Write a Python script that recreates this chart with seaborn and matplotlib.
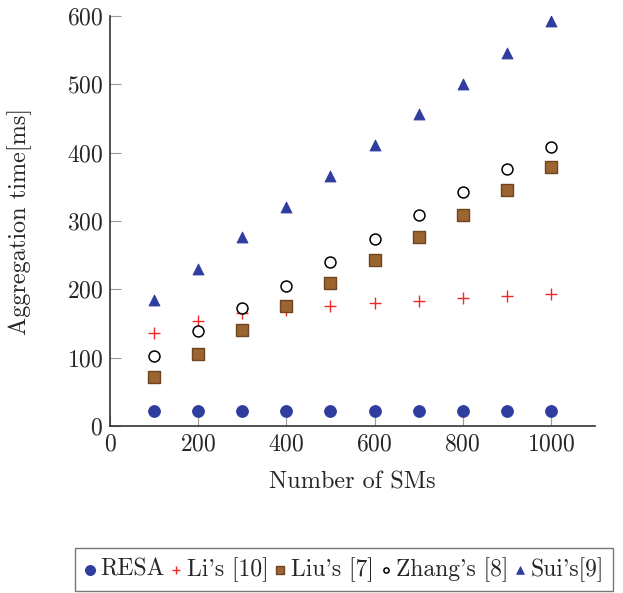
import matplotlib
matplotlib.use('Agg')
import matplotlib.pyplot as plt
import seaborn as sns
import pandas as pd

sms = [100, 200, 300, 400, 500, 600, 700, 800, 900, 1000]
resa = [22, 22, 22, 22, 22, 22, 22, 22, 22, 22]
li = [136, 153, 165, 170, 176, 180, 183, 187, 190, 193]
liu = [71, 105, 140, 175, 209, 243, 277, 309, 346, 379]
zhang = [102, 139, 172, 205, 240, 274, 309, 343, 376, 409]
sui = [185, 230, 276, 321, 366, 411, 456, 501, 546, 592]

series = [
    ('RESA', resa, dict(marker='o', color='#2f3d9e', edgecolor='#2f3d9e', s=72)),
    ("Li's [10]", li, dict(marker='+', color='#f02828', s=70, linewidth=1.0)),
    ("Liu's [7]", liu, dict(marker='s', color='#9b6431', edgecolor='#6e4520', s=66, linewidth=1.0)),
    ("Zhang's [8]", zhang, dict(marker='o', facecolor='white', edgecolor='black', s=62, linewidth=1.1)),
    ("Sui's[9]", sui, dict(marker='^', color='#2f3d9e', edgecolor='#2f3d9e', s=62)),
]
# legend marker sizes (the legend uses smaller symbols than the plot)
legend_sizes = [52, 30, 34, 14, 30]

sns.set_style('ticks')
plt.rcParams['font.family'] = ['cmr10', 'DejaVu Serif']
plt.rcParams['axes.formatter.use_mathtext'] = True

fig = plt.figure(figsize=(6.23, 5.93), dpi=100)
ax = fig.add_axes([0.1766, 0.2816, 0.7784, 0.6914])

for name, vals, kw in series:
    df = pd.DataFrame({'x': sms, 'y': vals})
    sns.scatterplot(data=df, x='x', y='y', ax=ax, label=name, zorder=3, **kw)

ax.set_xlim(0, 1100)
ax.set_ylim(0, 600)
ax.set_xticks([0, 200, 400, 600, 800, 1000])
ax.set_yticks([0, 100, 200, 300, 400, 500, 600])
ax.tick_params(direction='in', length=8, color='#999999', labelsize=17, pad=5)
for sp in ['top', 'right']:
    ax.spines[sp].set_visible(False)
for sp in ['left', 'bottom']:
    ax.spines[sp].set_color('#333333')
    ax.spines[sp].set_linewidth(1.2)

ax.set_xlabel('Number of SMs', fontsize=17.5, labelpad=12)
ax.set_ylabel('Aggregation time[ms]', fontsize=17.5, labelpad=25)

leg = ax.legend(loc='center', bbox_to_anchor=(344 / 623, 1 - 569.5 / 593),
                bbox_transform=fig.transFigure, ncol=5, fontsize=17,
                frameon=True, fancybox=False, edgecolor='#555555',
                handlelength=0.5, handletextpad=0.2, columnspacing=0.25,
                borderpad=0.38, borderaxespad=0)
leg.get_frame().set_linewidth(1.0)
for h, sz in zip(leg.legend_handles, legend_sizes):
    h.set_sizes([sz])

fig.savefig('out.png', dpi=100)
